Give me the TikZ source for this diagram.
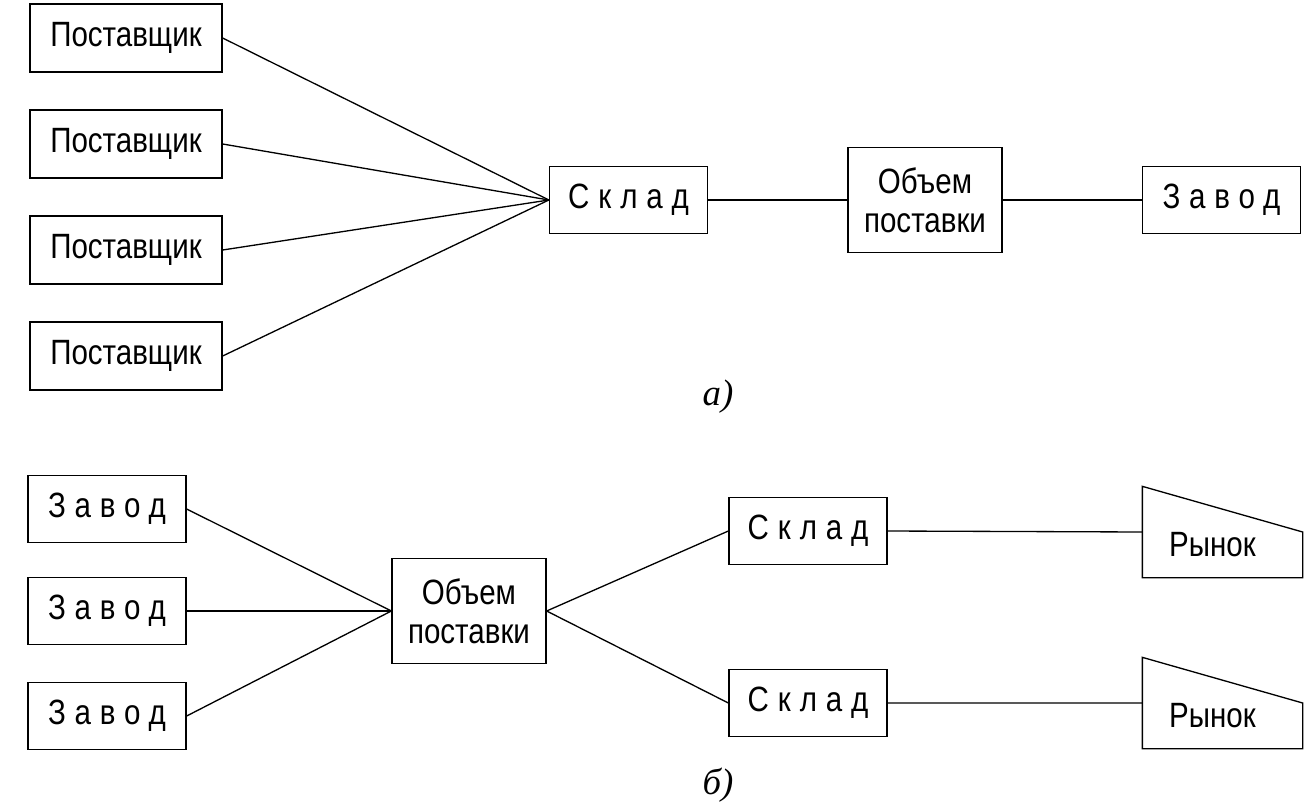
\documentclass[tikz,border=0pt]{standalone}
\usepackage{fontspec}
\setmainfont{Liberation Sans}[FakeStretch=0.84]
\newfontfamily\spacedfont{Liberation Sans}[FakeStretch=0.84, LetterSpace=25]
\newfontfamily\capfont{Liberation Serif}
\usetikzlibrary{calc}

\begin{document}
\begin{tikzpicture}[x=0.02cm, y=-0.02cm, line width=0.75pt,
		box/.style = {draw, rectangle, inner sep=0pt, font=\fontsize{20}{22}\selectfont, align=center},
		wide/.style = {box, minimum width=192*0.02cm, minimum height=68*0.02cm},
		mid/.style = {box, minimum width=158*0.02cm, minimum height=67*0.02cm},
		tall/.style = {box, minimum width=154*0.02cm, minimum height=105*0.02cm},
		spaced/.style = {font=\fontsize{20}{22}\spacedfont},
		caption/.style = {font=\fontsize{21}{24}\capfont\itshape}]
			\useasboundingbox (0,0) rectangle (1305,808);

			% a)
			\node [wide] (p1) at (126,38) {Поставщик};
			\node [wide] (p2) at (126,144) {Поставщик};
			\node [wide] (p3) at (126,250) {Поставщик};
			\node [wide] (p4) at (126,356) {Поставщик};
			\node [mid, spaced] (sa) at (628.5,200) {Склад};
			\node [tall] (va) at (925,200) {Объем\\поставки};
			\node [mid, spaced] (za) at (1221.5,200) {Завод};
			\node [caption] (capa) at (718,397) {а)};

			\foreach \i in {1,...,4}
				\draw (p\i.east) -- (sa.west);
			\draw
				(sa.east) -- (va.west)
				(va.east) -- (za.west);

			% b)
			\node [mid, spaced] (z1) at (107,509) {Завод};
			\node [mid, spaced] (z2) at (107,611) {Завод};
			\node [mid, spaced] (z3) at (107,716) {Завод};
			\node [tall] (vb) at (469,611) {Объем\\поставки};
			\node [mid, spaced] (s1) at (808,531) {Склад};
			\node [mid, spaced] (s2) at (808,703) {Склад};
			\node [minimum width=159*0.02cm, minimum height=90*0.02cm, inner sep=0pt] (r1) at (1222.5,532) {};
			\node [minimum width=159*0.02cm, minimum height=90*0.02cm, inner sep=0pt] (r2) at (1222.5,703) {};
			\node [caption] (capb) at (718,785) {б)};

			\foreach \r in {r1, r2} {
				\draw (\r.north west) -- (\r.east) -- (\r.south east) -- (\r.south west) -- cycle;
				\node [font=\fontsize{20}{22}\selectfont] (\r t) at ($(\r)+(-10,13)$) {Рынок};
			}

			\foreach \i in {1,2,3}
				\draw (z\i.east) -- (vb.west);
			\draw
				(vb.east) -- (s1.west)
				(vb.east) -- (s2.west)
				(s1.east) -- (r1.west)
				(s2.east) -- (r2.west);
		\end{tikzpicture}
\end{document}
